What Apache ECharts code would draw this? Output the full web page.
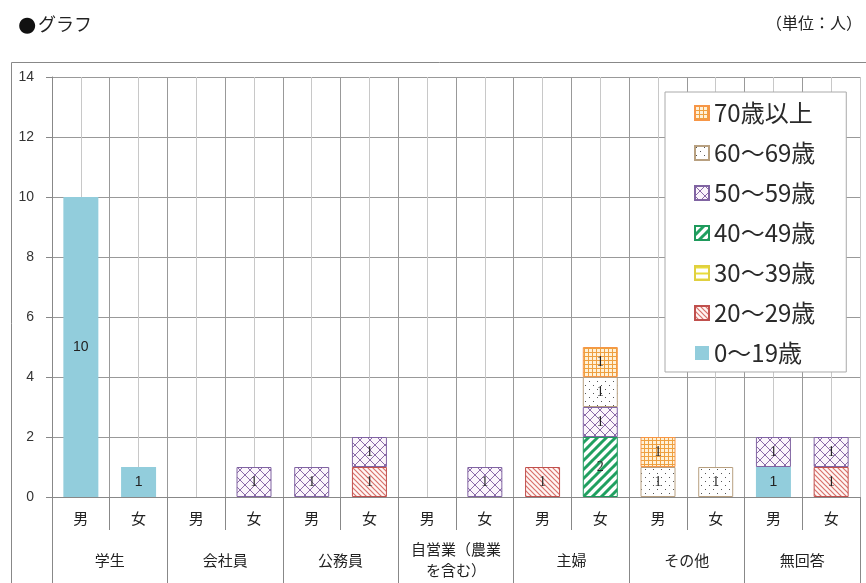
<!DOCTYPE html>
<html>
<head>
<meta charset="utf-8">
<script src="https://cdn.jsdelivr.net/npm/echarts@6/dist/echarts.min.js"></script>
<style>
  html, body { margin: 0; padding: 0; background: #fff; }
  #chart { width: 866px; height: 583px; }
</style>
</head>
<body>
<div id="chart"></div>
<script>
// 職業・性別ごとの回答者数（年代別の積み上げ）
const groups = ['学生', '会社員', '公務員', '自営業（農業\nを含む）', '主婦', 'その他', '無回答'];
const sexes = ['男', '女'];
const categories = groups.flatMap(g => sexes.map(s => g + '|' + s));

const ageNames = ['0～19歳', '20～29歳', '30～39歳', '40～49歳', '50～59歳', '60～69歳', '70歳以上'];
const age0_19  = [10, 1, 0, 0, 0, 0, 0, 0, 0, 0, 0, 0, 1, 0];
const age20_29 = [0, 0, 0, 0, 0, 1, 0, 0, 1, 0, 0, 0, 0, 1];
const age30_39 = [0, 0, 0, 0, 0, 0, 0, 0, 0, 0, 0, 0, 0, 0];
const age40_49 = [0, 0, 0, 0, 0, 0, 0, 0, 0, 2, 0, 0, 0, 0];
const age50_59 = [0, 0, 0, 1, 1, 1, 0, 1, 0, 1, 0, 0, 1, 1];
const age60_69 = [0, 0, 0, 0, 0, 0, 0, 0, 0, 1, 1, 1, 0, 0];
const age70up  = [0, 0, 0, 0, 0, 0, 0, 0, 0, 1, 1, 0, 0, 0];
const ageValues = [age0_19, age20_29, age30_39, age40_49, age50_59, age60_69, age70up];

const yTicks = [0, 2, 4, 6, 8, 10, 12, 14];

// ---- hatch patterns ----
function pattern(w, h, bg, draw) {
  const c = document.createElement('canvas');
  c.width = w; c.height = h;
  const ctx = c.getContext('2d');
  ctx.fillStyle = bg;
  ctx.fillRect(0, 0, w, h);
  draw(ctx, w, h);
  return { image: c, repeat: 'repeat' };
}
function lines(ctx, segs, color, width) {
  ctx.strokeStyle = color;
  ctx.lineWidth = width;
  ctx.beginPath();
  segs.forEach(s => { ctx.moveTo(s[0], s[1]); ctx.lineTo(s[2], s[3]); });
  ctx.stroke();
}
function backDiag(p) { return [[-1, -1, p + 1, p + 1], [-p - 1, -1, 1, p + 1], [p - 1, -1, 2 * p + 1, p + 1]]; }
function fwdDiag(p) { return [[-1, p + 1, p + 1, -1], [-p - 1, p + 1, 1, -1], [p - 1, p + 1, 2 * p + 1, -1]]; }

const fills = [
  '#92cddc',
  pattern(5, 5, '#fff6f4', (ctx, w) => lines(ctx, backDiag(w), '#d8706a', 1.2)),
  pattern(6, 6, '#ffffff', (ctx, w) => lines(ctx, [[0, 1.5, 6, 1.5]], '#e8dc3a', 2)),
  pattern(9, 9, '#ffffff', (ctx, w) => lines(ctx, fwdDiag(w), '#20a060', 3)),
  pattern(10, 10, '#fbf5fb', (ctx, w) => { lines(ctx, backDiag(w), '#8a6aa8', 1); lines(ctx, fwdDiag(w), '#8a6aa8', 1); }),
  pattern(8, 8, '#ffffff', ctx => { ctx.fillStyle = '#555'; ctx.fillRect(1, 1, 1, 1); ctx.fillRect(5, 5, 1, 1); }),
  pattern(4, 4, '#fff1d8', ctx => { ctx.fillStyle = '#eea040'; ctx.fillRect(0, 0, 4, 1); ctx.fillRect(0, 0, 1, 4); })
];
const borders = [null, '#c0504d', '#e0d040', '#1f9a5c', '#8064a2', '#b8a080', '#f79646'];

const series = ageNames.map((name, i) => ({
  name: name,
  type: 'bar',
  stack: 'total',
  xAxisIndex: 0,
  barWidth: 35,
  data: ageValues[i].map(v => (v > 0 ? v : null)),
  itemStyle: {
    color: fills[i],
    borderColor: borders[i] || 'transparent',
    borderWidth: borders[i] ? 1 : 0
  },
  label: {
    show: true,
    position: 'inside',
    color: '#222',
    fontSize: 14,
    fontFamily: i === 0 ? 'Liberation Sans' : 'Liberation Serif',
    formatter: p => p.value
  }
}));

const chart = echarts.init(document.getElementById('chart'), null, { renderer: 'canvas' });

const halfCats = Array.from({ length: 28 }, (_, i) => 'h' + i);
const jpFont = '"Noto Sans CJK JP", sans-serif';

chart.setOption({
  backgroundColor: '#ffffff',
  animation: false,
  grid: { left: 52, right: 6, top: 77, bottom: 86, containLabel: false },
  legend: {
    orient: 'vertical',
    left: 665,
    top: 92,
    data: ageNames.slice().reverse(),
    icon: 'rect',
    itemWidth: 14,
    itemHeight: 14,
    itemGap: 16,
    padding: [9, 31, 7, 29],
    backgroundColor: '#ffffff',
    borderColor: '#aaaaaa',
    borderWidth: 1,
    textStyle: { fontSize: 24, color: '#2a2a2a', fontFamily: jpFont }
  },
  xAxis: [
    {
      type: 'category',
      data: categories,
      boundaryGap: true,
      axisLine: { show: true, lineStyle: { color: '#888' } },
      axisTick: { show: true, interval: 0, length: 33, lineStyle: { color: '#888' } },
      splitLine: { show: true, interval: 0, lineStyle: { color: '#999', width: 1 } },
      axisLabel: {
        interval: 0,
        margin: 21,
        verticalAlign: 'middle',
        fontSize: 15,
        color: '#222',
        fontFamily: jpFont,
        formatter: v => v.split('|')[1]
      }
    },
    {
      type: 'category',
      data: groups,
      position: 'bottom',
      boundaryGap: true,
      axisLine: { show: false },
      axisTick: { show: true, interval: 0, length: 90, lineStyle: { color: '#888' } },
      splitLine: { show: false },
      axisLabel: {
        interval: 0,
        margin: 63,
        verticalAlign: 'middle',
        lineHeight: 21,
        fontSize: 15,
        color: '#222',
        fontFamily: jpFont
      }
    },
    {
      type: 'category',
      data: halfCats,
      position: 'bottom',
      boundaryGap: true,
      axisLine: { show: false },
      axisTick: { show: false },
      axisLabel: { show: false },
      splitLine: { show: true, interval: i => i % 2 === 1, lineStyle: { color: '#c8c8c8', width: 1 } }
    }
  ],
  yAxis: {
    type: 'value',
    min: yTicks[0],
    max: yTicks[yTicks.length - 1],
    interval: 2,
    axisLine: { show: true, lineStyle: { color: '#888' } },
    axisTick: { show: true, length: 6, lineStyle: { color: '#888' } },
    splitLine: { show: true, lineStyle: { color: '#999' } },
    axisLabel: { margin: 18, fontSize: 14, color: '#333', fontFamily: 'Liberation Sans' }
  },
  graphic: [
    {
      type: 'rect',
      left: 9, top: 60,
      shape: { width: 880, height: 540 },
      style: { fill: 'none', stroke: '#888', lineWidth: 1 },
      z: -1
    },
    {
      type: 'text',
      left: 18, top: 15,
      style: { text: '●', fill: '#111', font: '21px "DejaVu Sans", sans-serif' }
    },
    {
      type: 'text',
      left: 38, top: 15,
      style: { text: 'グラフ', fill: '#222', font: '18px "Noto Sans CJK JP", sans-serif' }
    },
    {
      type: 'text',
      right: 4, top: 15,
      style: { text: '（単位：人）', fill: '#222', font: '16px "Noto Sans CJK JP", sans-serif' }
    }
  ],
  series: series
});
</script>
</body>
</html>
